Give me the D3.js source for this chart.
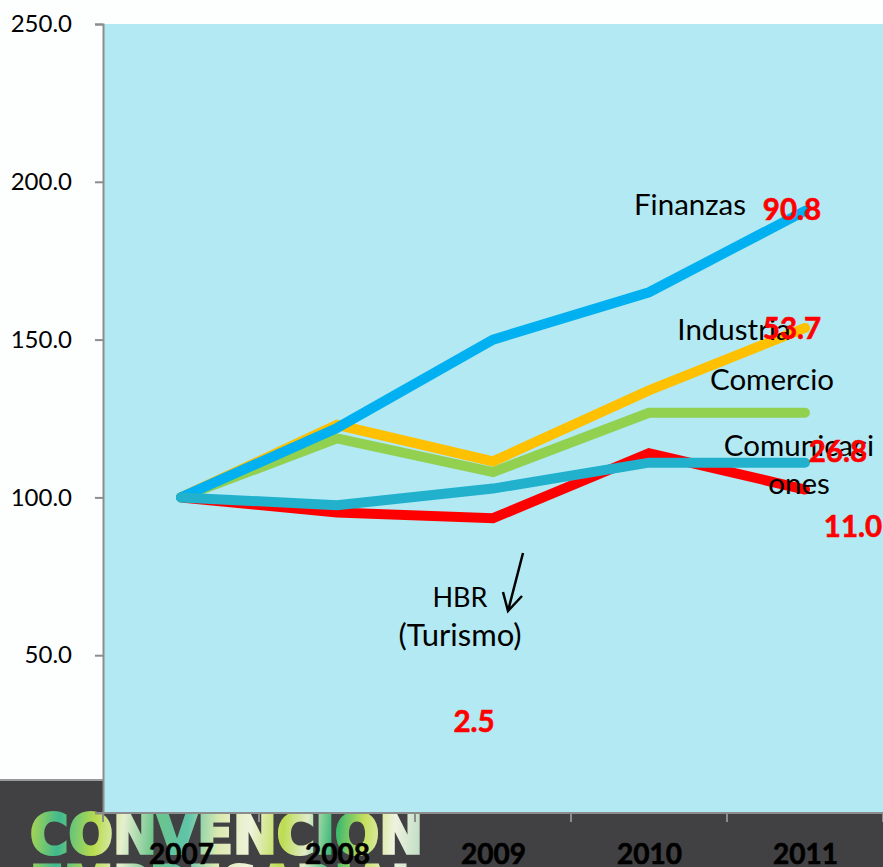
<!DOCTYPE html>
<html>
<head>
<meta charset="utf-8">
<script src="https://cdn.jsdelivr.net/npm/d3@7"></script>
<style>
html, body { margin: 0; padding: 0; background: #fdfefe; overflow: hidden; }
svg { display: block; font-family: Lato, "Open Sans", sans-serif; }
.axis path, .axis line { stroke: #8c8c8c; stroke-width: 2; }
</style>
</head>
<body>
<div id="chart"></div>
<script>
let years = ["2007", "2008", "2009", "2010", "2011"];
let yTicks = [50, 100, 150, 200, 250];

// drawing order = order in the picture, last one on top
let hbr = [100, 95.2, 93.4, 114, 102.5];
let industria = [100, 123, 111.4, 133.9, 153.7];
let comercio = [100, 118.7, 108, 126.8, 126.8];
let finanzas = [100, 122, 150, 165, 190.8];
let comunicaciones = [100, 97.5, 102.8, 111, 111];

let seriesValues = [hbr, industria, comercio, finanzas, comunicaciones];
let seriesColors = ["#ff0000", "#ffc000", "#92d050", "#00b0f0", "#21b1cc"];

let width = 883, height = 867;
let margin = {left: 103, top: 24, right: 0, bottom: 54};

let svg = d3.select("#chart")
    .append("svg")
    .attr("width", width)
    .attr("height", height);

let x = d3.scalePoint()
    .domain(years)
    .range([181, 805]);

let y = d3.scaleLinear()
    .domain([0, 250])
    .range([height - margin.bottom, margin.top]);

// dark slide footer behind the bottom of the chart
svg.append("rect")
    .attr("x", 0)
    .attr("y", 780)
    .attr("width", width)
    .attr("height", 87)
    .attr("fill", "#414042");
svg.append("line")
    .attr("x1", 0).attr("x2", margin.left)
    .attr("y1", 780).attr("y2", 780)
    .attr("stroke", "#9a9a9a").attr("stroke-width", 2);

// logo
let defs = svg.append("defs");
let grad = defs.append("linearGradient")
    .attr("id", "logoFill")
    .attr("gradientUnits", "userSpaceOnUse")
    .attr("x1", 28).attr("x2", 425).attr("y1", 815).attr("y2", 850);
let logoStops = [["0", "#b5d84a"], ["0.08", "#3fb98f"], ["0.17", "#b8dc4c"], ["0.24", "#e6efd0"], ["0.32", "#6cc48a"],
    ["0.4", "#5fc4a8"], ["0.48", "#dbe9b0"], ["0.56", "#eef3da"], ["0.64", "#bcdc50"], ["0.7", "#e0ecc8"], ["0.77", "#2fb56f"],
    ["0.84", "#c4de5a"], ["0.92", "#eef3e0"], ["1", "#b9d9c0"]];
logoStops.forEach(s => grad.append("stop").attr("offset", s[0]).attr("stop-color", s[1]));
defs.append("filter")
    .attr("id", "logoBlur")
    .append("feGaussianBlur")
    .attr("stdDeviation", 0.7);

function logoLine(txt, py) {
    svg.append("text")
        .text(txt)
        .attr("x", 30)
        .attr("y", py)
        .attr("textLength", 393)
        .attr("lengthAdjust", "spacingAndGlyphs")
        .attr("font-family", "DejaVu Sans")
        .attr("font-weight", "bold")
        .attr("font-size", 56)
        .attr("fill", "url(#logoFill)")
        .attr("stroke", "url(#logoFill)")
        .attr("stroke-width", 3)
        .attr("filter", "url(#logoBlur)");
}
logoLine("CONVENCION", 853);
logoLine("EMPRESARIAL", 905);

// plot area
svg.append("rect")
    .attr("x", margin.left)
    .attr("y", margin.top)
    .attr("width", width - margin.left)
    .attr("height", height - margin.bottom - margin.top)
    .attr("fill", "#b2e9f3");

// axes
let yAxis = d3.axisLeft(y)
    .tickValues(yTicks)
    .tickSize(8)
    .tickFormat(d3.format(".1f"));

let gy = svg.append("g")
    .attr("class", "axis")
    .attr("transform", "translate(" + margin.left + ",0)")
    .call(yAxis);
gy.selectAll("text")
    .attr("x", -31)
    .attr("font-size", 24)
    .attr("font-family", "Lato")
    .attr("fill", "#000");

let xAxis = d3.axisBottom(x)
    .tickSize(0)
    .tickSizeOuter(0);

let gx = svg.append("g")
    .attr("class", "axis")
    .attr("transform", "translate(0," + y(0) + ")")
    .call(xAxis);
gx.select(".domain").remove();
gx.selectAll("text")
    .attr("y", 51)
    .attr("dy", 0)
    .attr("font-size", 28)
    .attr("font-weight", "bold")
    .attr("font-family", "Lato")
    .attr("fill", "#000")
    .attr("stroke", "#000")
    .attr("stroke-width", 0.6);

// baseline and the ticks that sit between the categories
let step = x.step();
let boundaries = d3.range(years.length + 1).map(i => x(years[0]) - step / 2 + i * step);
svg.append("line")
    .attr("x1", boundaries[0] - 8).attr("x2", width)
    .attr("y1", y(0)).attr("y2", y(0))
    .attr("stroke", "#8c8c8c").attr("stroke-width", 2);
svg.selectAll(".xtick")
    .data(boundaries)
    .enter()
    .append("line")
    .attr("class", "xtick")
    .attr("x1", d => d).attr("x2", d => d)
    .attr("y1", y(0)).attr("y2", y(0) + 9)
    .attr("stroke", "#8c8c8c").attr("stroke-width", 2);

// lines
let line = d3.line()
    .x((d, i) => x(years[i]))
    .y(d => y(d));

svg.selectAll(".series")
    .data(seriesValues)
    .enter()
    .append("path")
    .attr("class", "series")
    .attr("d", d => line(d))
    .attr("fill", "none")
    .attr("stroke", (d, i) => seriesColors[i])
    .attr("stroke-width", 10)
    .attr("stroke-linecap", "round")
    .attr("stroke-linejoin", "miter");

// names typed over the chart
function label(txt, px, py, size, color, weight) {
    let t = svg.append("text")
        .text(txt)
        .attr("x", px)
        .attr("y", py)
        .attr("text-anchor", "middle")
        .attr("font-size", size)
        .attr("font-weight", weight)
        .attr("fill", color);
    if (weight == "bold") {
        t.attr("stroke", color).attr("stroke-width", 0.6);
    }
}

label("Finanzas", 690, 215, 29.5, "#000", "normal");
label("Industria", 734, 340, 29.5, "#000", "normal");
label("Comercio", 772, 390, 29.5, "#000", "normal");
label("Comunicaci", 799, 456, 29.5, "#000", "normal");
label("ones", 799, 494, 29.5, "#000", "normal");
label("HBR", 460, 607, 27, "#000", "normal");
label("(Turismo)", 460, 646, 31, "#000", "normal");

label("90.8", 792, 220, 29.5, "#ff0000", "bold");
label("53.7", 792, 339, 29.5, "#ff0000", "bold");
label("26.8", 838, 462, 29.5, "#ff0000", "bold");
label("11.0", 853, 537, 29.5, "#ff0000", "bold");
label("2.5", 474, 732, 29.5, "#ff0000", "bold");

// hand drawn arrow next to HBR
svg.append("path")
    .attr("d", "M523,553 L508,611 M503,592 L508,611 L522,596")
    .attr("fill", "none")
    .attr("stroke", "#000")
    .attr("stroke-width", 2.5);
</script>
</body>
</html>
